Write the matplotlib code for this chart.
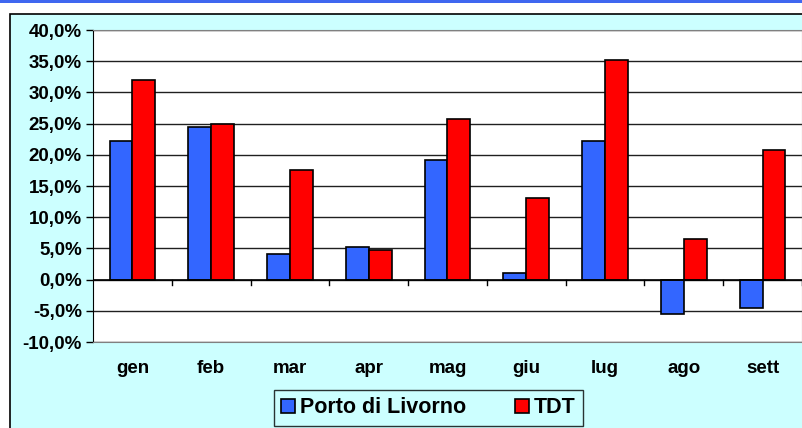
import numpy as np
import matplotlib.pyplot as plt
from matplotlib.patches import Rectangle
from matplotlib.ticker import FuncFormatter

plt.rcParams['font.family'] = ['Liberation Sans', 'DejaVu Sans']
plt.rcParams['font.weight'] = 'bold'

mesi = ['gen', 'feb', 'mar', 'apr', 'mag', 'giu', 'lug', 'ago', 'sett']
livorno = [22.2, 24.4, 4.1, 5.2, 19.1, 1.0, 22.2, -5.5, -4.6]
tdt = [32.0, 24.9, 17.6, 4.8, 25.8, 13.1, 35.2, 6.5, 20.8]

W, H = 803, 428
fig = plt.figure(figsize=(W / 100, H / 100), dpi=100)
fig.patch.set_facecolor('white')

# sfondo del grafico con bordo nero
fig.patches.append(Rectangle((10 / W, -0.1), 1.1, 1 - 14 / H + 0.1, transform=fig.transFigure,
                             facecolor='#CCFFFF', edgecolor='black', lw=1.2, zorder=-2))
# barra blu in alto
fig.patches.append(Rectangle((0, 1 - 3 / H), 1, 3 / H, transform=fig.transFigure,
                             facecolor='#3F67F0', edgecolor='none', zorder=-1))

ax = fig.add_axes([93 / W, 1 - 342 / H, (802 - 93) / W, (342 - 30) / H])
ax.set_zorder(2)
ax.set_facecolor('white')

x = np.arange(len(mesi))
w = 0.29
b1 = ax.bar(x - w / 2, livorno, w, color='#3366FF', edgecolor='black', lw=1.2, zorder=3)
b2 = ax.bar(x + w / 2, tdt, w, color='#FF0000', edgecolor='black', lw=1.2, zorder=3)

ax.set_xlim(-0.5, len(mesi) - 0.5)
ax.set_ylim(-10, 40)
ax.set_yticks(np.arange(-10, 41, 5))
ax.yaxis.set_major_formatter(FuncFormatter(lambda v, p: f'{v:.1f}%'.replace('.', ',')))
ax.yaxis.grid(True, color='#202020', lw=1, zorder=1)
ax.tick_params(axis='y', labelsize=13.5, length=5, width=1, pad=3, direction='out')

ax.set_xticks(x)
ax.set_xticklabels(mesi, fontsize=13.5)
ax.tick_params(axis='x', length=0, pad=13)
# tacche sull'asse dello zero, ai confini delle categorie
for b in np.arange(0.5, len(mesi), 1):
    ax.plot([b, b], [0, -0.8], color='black', lw=1, zorder=2)
ax.axhline(0, color='black', lw=1.2, zorder=4)

for s in ['top', 'right', 'bottom']:
    ax.spines[s].set_color('#808080')
ax.spines['left'].set_color('black')

leg = ax.legend([b1, b2], ['Porto di Livorno', 'TDT'], loc='upper center',
                bbox_to_anchor=(0.473, -0.153), ncol=2, frameon=True, fancybox=False,
                fontsize=15.5, handlelength=0.65, handleheight=0.65, handletextpad=0.2,
                columnspacing=2.3, borderpad=0.35, borderaxespad=0)
leg.get_frame().set_edgecolor('black')
leg.get_frame().set_facecolor('#CCFFFF')
leg.get_frame().set_linewidth(1)

fig.savefig('out.png', dpi=100)
